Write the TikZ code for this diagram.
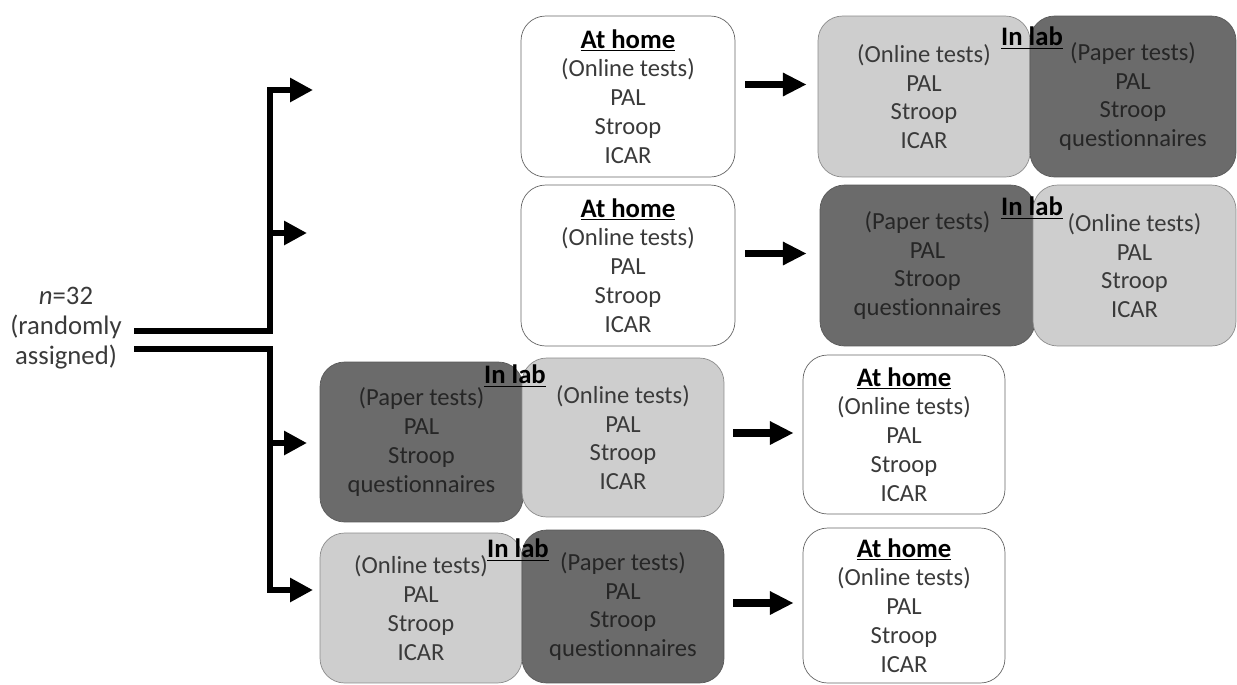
\documentclass[tikz,border=0pt]{standalone}
\usepackage{fontspec}
\setmainfont{Carlito}[Ligatures=NoCommon]
\usetikzlibrary{arrows.meta}

\definecolor{lightcell}{HTML}{CECECE}
\definecolor{darkcell}{HTML}{6B6B6B}
\definecolor{ink}{HTML}{3A3A3A}

\newcommand{\hd}[1]{{\color{black}\fontsize{15.2}{16.4}\selectfont\bfseries\underline{#1}}}

\tikzset{
  cell/.style={rounded corners=14pt, align=center, inner sep=0pt, text=ink,
    font=\fontsize{14}{16.4}\selectfont},
  homecell/.style={cell, draw=black!60, fill=white, minimum width=4.04cm},
  onlinecell/.style={cell, draw=black!45, fill=lightcell},
  papercell/.style={cell, draw=black!65, fill=darkcell, text=black!85},
  lablabel/.style={inner sep=0pt, font=\fontsize{14}{16.4}\selectfont},
  flow/.style={line width=4pt, -{Triangle[length=13.5pt,width=12.5pt]}},
  branch/.style={line width=3.4pt, -{Triangle[length=13pt,width=13pt]}},
  trunk/.style={line width=3.4pt}
}

\begin{document}
\begin{tikzpicture}[x=0.02cm, y=-0.02cm]
            \useasboundingbox (0,0) rectangle (1237,684);

            % Sample
            \node[lablabel, align=center, text=ink, font=\fontsize{15.2}{17.2}\selectfont] (src) at (66,328)
                {\textit{n}=32\\(randomly\\assigned)};

            % Group 1: home, then lab (online, paper)
            \node[homecell, minimum width=4.28cm, minimum height=3.22cm] (h1) at (628,96.5)
                {\hd{At home}\\(Online tests)\\PAL\\Stroop\\ICAR};
            \node[onlinecell, minimum width=4.24cm, minimum height=3.22cm] (l1a) at (924,96.5)
                {(Online tests)\\PAL\\Stroop\\ICAR};
            \node[papercell, minimum width=4.12cm, minimum height=3.22cm] (l1b) at (1133,96.5)
                {(Paper tests)\\PAL\\Stroop\\questionnaires};
            \node[lablabel] (lab1) at (1032,38) {\hd{In lab}};

            % Group 2: home, then lab (paper, online)
            \node[homecell, minimum width=4.28cm, minimum height=3.22cm] (h2) at (628,265.5)
                {\hd{At home}\\(Online tests)\\PAL\\Stroop\\ICAR};
            \node[papercell, minimum width=4.30cm, minimum height=3.22cm] (l2a) at (927.5,265.5)
                {(Paper tests)\\PAL\\Stroop\\questionnaires};
            \node[onlinecell, minimum width=4.06cm, minimum height=3.22cm] (l2b) at (1134.5,265.5)
                {(Online tests)\\PAL\\Stroop\\ICAR};
            \node[lablabel] (lab2) at (1032,208) {\hd{In lab}};

            % Group 3: lab (paper, online), then home
            \node[papercell, minimum width=4.06cm, minimum height=3.2cm] (l3a) at (421.5,442)
                {(Paper tests)\\PAL\\Stroop\\questionnaires};
            \node[onlinecell, minimum width=4.04cm, minimum height=3.18cm] (l3b) at (623,437.5)
                {(Online tests)\\PAL\\Stroop\\ICAR};
            \node[lablabel] (lab3) at (515,376) {\hd{In lab}};
            \node[homecell, minimum height=3.18cm] (h3) at (904,434.5)
                {\hd{At home}\\(Online tests)\\PAL\\Stroop\\ICAR};

            % Group 4: lab (online, paper), then home
            \node[onlinecell, minimum width=4.04cm, minimum height=3.0cm] (l4a) at (421,608)
                {(Online tests)\\PAL\\Stroop\\ICAR};
            \node[papercell, minimum width=4.04cm, minimum height=3.06cm] (l4b) at (623,606.5)
                {(Paper tests)\\PAL\\Stroop\\questionnaires};
            \node[lablabel] (lab4) at (518,550) {\hd{In lab}};
            \node[homecell, minimum height=3.1cm] (h4) at (904,605.5)
                {\hd{At home}\\(Online tests)\\PAL\\Stroop\\ICAR};

            % Session order
            \draw[flow] ([shift={(10,-12)}]h1.east) -- ([shift={(-11,-12)}]l1a.west);
            \draw[flow] ([shift={(10,-12)}]h2.east) -- ([shift={(-13,-12)}]l2a.west);
            \draw[flow] ([shift={(9,-4.5)}]l3b.east) -- ([shift={(-9,-1.5)}]h3.west);
            \draw[flow] ([shift={(9,-3.5)}]l4b.east) -- ([shift={(-9,-2.5)}]h4.west);

            % Assignment tree
            \coordinate (upfork) at (270,90);
            \coordinate (lowfork) at (270,590);
            \foreach \k/\x/\y in {1/313/90, 2/307/233, 3/307/443, 4/313/590} {
                \coordinate (g\k) at (\x,\y);
            }
            \draw[trunk] ([shift={(12,3)}]src.east) -| (upfork);
            \draw[trunk] ([shift={(12,21)}]src.east) -| (lowfork);
            \draw[branch] ([xshift=-1.7pt]upfork) -- (g1);
            \draw[branch] (upfork |- g2) -- (g2);
            \draw[branch] (lowfork |- g3) -- (g3);
            \draw[branch] ([xshift=-1.7pt]lowfork) -- (g4);
        \end{tikzpicture}
\end{document}
